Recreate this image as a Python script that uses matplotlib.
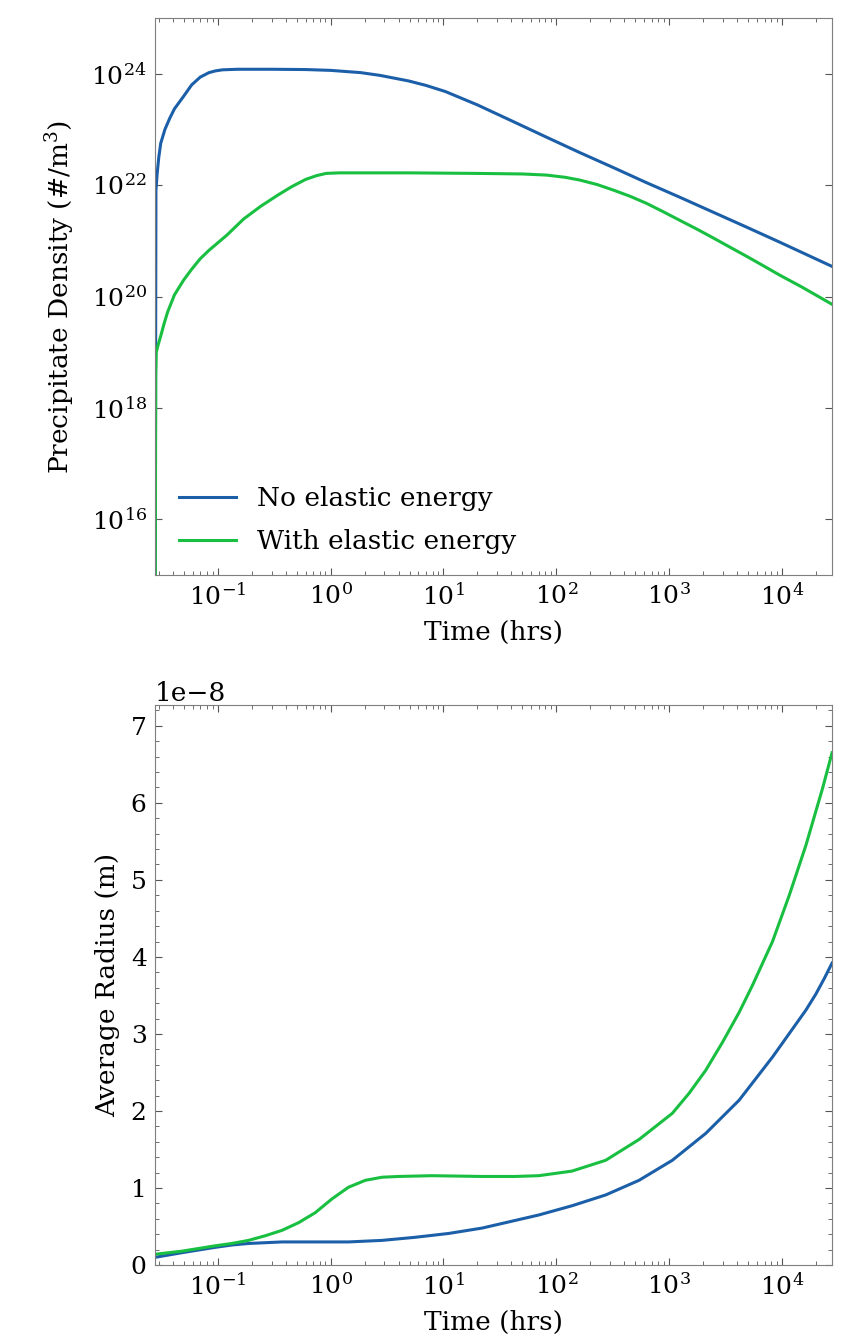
import numpy as np
import matplotlib
matplotlib.use("Agg")
from matplotlib import pyplot as plt
from matplotlib import ticker

# time axis (hrs): run from 100 s to 1e8 s
t_min, t_max = 100 / 3600, 1e8 / 3600

# precipitate density (log10 of #/m^3)
t_dens_no = [0.02778, 0.0283, 0.029, 0.030, 0.0312, 0.034, 0.0375, 0.0413, 0.05, 0.0587,
             0.07, 0.0836, 0.095, 0.11, 0.15, 0.3, 0.6, 1.0, 1.84, 2.74, 4.92, 7.0,
             10.4, 20, 40.6, 80, 159, 320, 620, 1250, 2417, 4800, 9440, 27778]
log_dens_no = [13.0, 21.9, 22.2, 22.5, 22.75, 23.0, 23.2, 23.37, 23.6, 23.80,
               23.94, 24.02, 24.05, 24.07, 24.08, 24.08, 24.075, 24.06, 24.02, 23.97, 23.87, 23.79,
               23.68, 23.44, 23.15, 22.87, 22.59, 22.315, 22.05, 21.78, 21.52, 21.25, 20.98, 20.54]

t_dens_el = [0.02778, 0.0282, 0.0285, 0.0295, 0.0312, 0.0335, 0.0359, 0.0413, 0.05, 0.0587,
             0.07, 0.0836, 0.12, 0.169, 0.24, 0.340, 0.45, 0.597, 0.75, 0.912, 1.2, 2.0,
             5.0, 20, 50, 82, 120, 162, 230, 321, 450, 634, 900, 1250, 1800, 2466,
             3500, 4876, 7000, 9620, 15000, 27778]
log_dens_el = [13.0, 18.6, 19.0, 19.12, 19.29, 19.52, 19.72, 20.03, 20.30, 20.49,
               20.68, 20.83, 21.10, 21.39, 21.62, 21.82, 21.97, 22.10, 22.17, 22.21, 22.22, 22.22,
               22.22, 22.21, 22.20, 22.18, 22.14, 22.09, 22.01, 21.91, 21.80, 21.67, 21.515, 21.365,
               21.20, 21.05, 20.88, 20.72, 20.54, 20.38, 20.17, 19.86]

# average radius, in units of 1e-8 m
t_rad_no = [0.02778, 0.048, 0.095, 0.133, 0.187, 0.263, 0.37, 0.73, 1.44, 2.85, 5.6,
            11.1, 22, 43.5, 70, 138, 274, 541, 1067, 2113, 4170, 8240, 16300, 20000,
            23700, 27778]
rad_no = [0.10, 0.16, 0.23, 0.26, 0.28, 0.29, 0.30, 0.30, 0.30, 0.32, 0.36,
          0.41, 0.48, 0.58, 0.65, 0.77, 0.91, 1.10, 1.36, 1.71, 2.14, 2.70, 3.31, 3.52,
          3.72, 3.92]

t_rad_el = [0.02778, 0.048, 0.095, 0.133, 0.187, 0.263, 0.37, 0.52, 0.731, 1.03, 1.44,
            2.03, 2.85, 4.0, 7.9, 22, 43, 70, 138, 274, 541, 1067, 1502, 2113, 2965,
            4170, 5470, 8240, 11600, 16300, 22900, 27778]
rad_el = [0.14, 0.18, 0.25, 0.28, 0.32, 0.38, 0.45, 0.55, 0.68, 0.86, 1.01,
          1.10, 1.14, 1.15, 1.16, 1.15, 1.15, 1.16, 1.22, 1.36, 1.63, 1.97, 2.23, 2.53, 2.89,
          3.28, 3.63, 4.20, 4.80, 5.45, 6.19, 6.65]

labels = ['No elastic energy', 'With elastic energy']
c_no, c_el = '#1c5fa9', '#18bf40'

plt.rcParams['font.family'] = 'DejaVu Serif'
plt.rcParams['mathtext.fontset'] = 'dejavuserif'

fig = plt.figure(figsize=(8.67, 13.35), dpi=100)
ax1 = fig.add_axes([0.1788, 0.5693, 0.7809, 0.4172])
ax2 = fig.add_axes([0.1788, 0.0524, 0.7809, 0.4195])


def style(ax):
    for s in ax.spines.values():
        s.set_color('#7f7f7f')
    ax.tick_params(which='both', direction='in', top=True, right=True,
                   color='#555555', labelsize=18, pad=6)
    ax.tick_params(which='major', length=5)
    ax.tick_params(which='minor', length=3)


ax1.plot(t_dens_no, 10 ** np.array(log_dens_no), c=c_no, lw=2.2, label=labels[0])
ax1.plot(t_dens_el, 10 ** np.array(log_dens_el), c=c_el, lw=2.2, label=labels[1])
ax1.set_xscale('log')
ax1.set_yscale('log')
ax1.set_xlim(t_min, t_max)
ax1.set_ylim(1e15, 1e25)
ax1.set_yticks([1e16, 1e18, 1e20, 1e22, 1e24])
ax1.yaxis.set_minor_locator(ticker.NullLocator())
ax1.set_xlabel('Time (hrs)', fontsize=19, labelpad=7)
ax1.set_ylabel('Precipitate Density (#/m$^3$)', fontsize=19, labelpad=10)
ax1.legend(loc='lower left', frameon=False, fontsize=19, handlelength=2.15,
           labelspacing=0.68, bbox_to_anchor=(0.0, -0.005))
style(ax1)

ax2.plot(t_rad_no, np.array(rad_no) * 1e-8, c=c_no, lw=2.2)
ax2.plot(t_rad_el, np.array(rad_el) * 1e-8, c=c_el, lw=2.2)
ax2.set_xscale('log')
ax2.set_xlim(t_min, t_max)
ax2.set_ylim(0, 7.27e-8)
ax2.yaxis.set_minor_locator(ticker.AutoMinorLocator(5))
ax2.yaxis.get_offset_text().set_fontsize(19)
ax2.set_xlabel('Time (hrs)', fontsize=19, labelpad=7)
ax2.set_ylabel('Average Radius (m)', fontsize=19, labelpad=8)
style(ax2)

fig.savefig('out.png', dpi=100)
